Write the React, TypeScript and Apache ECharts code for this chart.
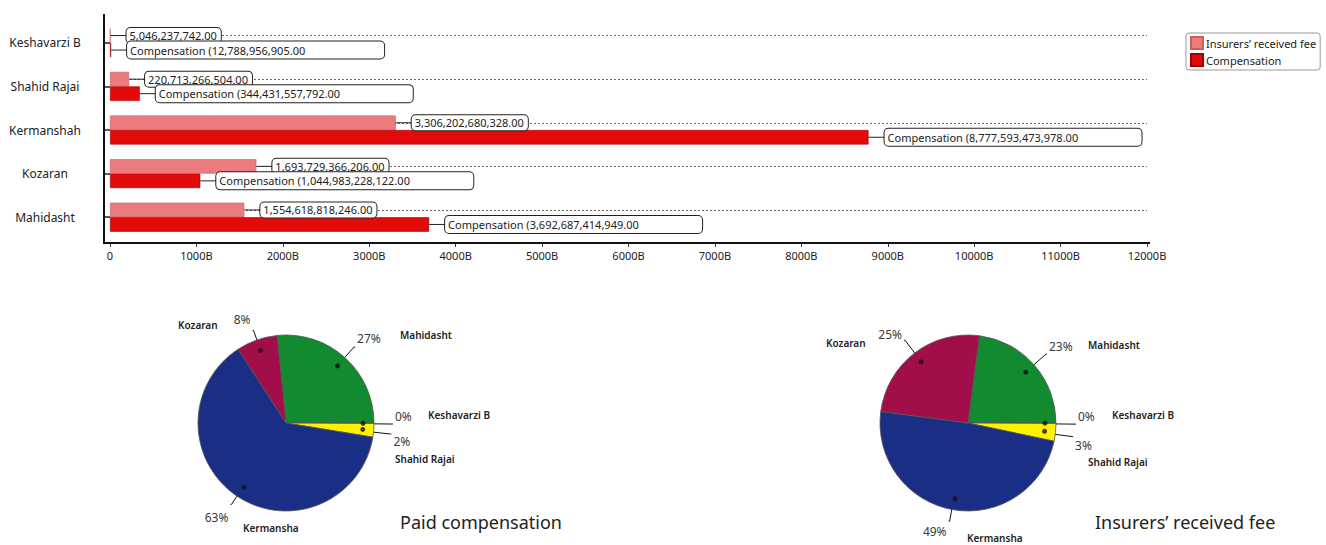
import React, { useEffect, useRef } from 'react';
import * as echarts from 'echarts';

const categories = ['Keshavarzi B', 'Shahid Rajai', 'Kermanshah', 'Kozaran', 'Mahidasht'];
const feeValues = [5046237742, 220713266504, 3306202680328, 1693729366206, 1554618818246];
const compValues = [12788956905, 344431557792, 8777593473978, 1044983228122, 3692687414949];
const xTickLabels = ['0', '1000B', '2000B', '3000B', '4000B', '5000B', '6000B', '7000B', '8000B', '9000B', '10000B', '11000B', '12000B'];
const seriesNames = ['Insurers\u2019 received fee', 'Compensation'];
const pieNames = ['Keshavarzi B', 'Shahid Rajai', 'Kermansha', 'Kozaran', 'Mahidasht'];
const pieTitles = ['Paid compensation', 'Insurers\u2019 received fee'];
// clockwise order of slices (indices into categories)
const pieOrder = [4, 0, 1, 2, 3];

// styles / layout (not data)
const sliceColors = ['#F4E400', '#FFF200', '#1A2E86', '#A10E4A', '#128A30'];
const FONT = 'Noto Sans';
const PIE_R = 88;
const DOT_R = 77;
const pieCenters: [number, number][] = [[286, 423], [968, 423]];
const pieTweaks = [
  [
    { len: 29, pad: [0, 0, 16, 0] },
    { len: 28, pad: [16, 0, 0, 0] },
    { len: 21, pad: [26, 0, 0, 0] },
    { len: 21, pad: [0, 0, 22, 0] },
    { len: 25, pad: [0, 0, 18, 0] },
  ],
  [
    { len: 30, pad: [0, 0, 16, 0] },
    { len: 28, pad: [18, 0, 0, 0] },
    { len: 23, pad: [20, 0, 0, 0] },
    { len: 27, pad: [0, 0, 12, 0] },
    { len: 27, pad: [0, 0, 16, 0] },
  ],
];
const nameSpots = [
  [[428, 415], [395, 459], [243, 528], [178, 325], [400, 335]],
  [[1112, 415], [1088, 462], [967, 538], [826, 343], [1088, 345]],
];
const titleSpots = [[400, 522], [1095, 522]];

const fmt = (v: number) =>
  v.toLocaleString('en-US', { minimumFractionDigits: 2, maximumFractionDigits: 2 });

const pctStyle = { fontFamily: FONT, fontSize: 12, color: '#3a3a3a' };

function pieParts(values: number[], k: number) {
  const total = values.reduce((a, b) => a + b, 0);
  const startAngle = (360 * values[pieOrder[0]]) / total;
  const center = pieCenters[k];
  const base = {
    type: 'pie',
    center,
    startAngle,
    clockwise: true,
    silent: true,
    avoidLabelOverlap: false,
    minShowLabelAngle: 0,
    percentPrecision: 0,
    emphasis: { disabled: true },
  };
  const visible = {
    ...base,
    radius: PIE_R,
    label: { show: false },
    labelLine: { show: false },
    itemStyle: { borderColor: '#555', borderWidth: 0.8 },
    data: pieOrder.map((i) => ({ name: categories[i], value: values[i], itemStyle: { color: sliceColors[i] } })),
  };
  const pct = {
    ...base,
    radius: DOT_R,
    minAngle: 2,
    itemStyle: { color: 'rgba(0,0,0,0)', borderWidth: 0 },
    label: {
      show: true,
      position: 'outside',
      alignTo: 'none',
      distanceToLabelLine: 2,
      formatter: '{p|{d}%}',
      rich: { p: { ...pctStyle } },
    },
    labelLine: { show: true, length2: 1, smooth: false, minTurnAngle: 0, lineStyle: { color: '#111', width: 1 } },
    data: pieOrder.map((i) => ({
      name: categories[i],
      value: values[i],
      label: { rich: { p: { ...pctStyle, padding: pieTweaks[k][i].pad } } },
      labelLine: { length: pieTweaks[k][i].len },
    })),
  };
  // dots at the middle of every slice, placed on a polar system sharing the pie's centre
  let acc = 0;
  const dotData = pieOrder.map((i) => {
    const mid = acc + values[i] / 2;
    acc += values[i];
    return [DOT_R / PIE_R, mid];
  });
  const dots = {
    type: 'scatter',
    coordinateSystem: 'polar',
    polarIndex: k,
    symbol: 'circle',
    symbolSize: 5,
    silent: true,
    z: 5,
    itemStyle: { color: '#111' },
    data: dotData,
  };
  const polar = { center, radius: PIE_R };
  const angleAxis = { polarIndex: k, type: 'value', min: 0, max: total, startAngle, clockwise: true, show: false };
  const radiusAxis = { polarIndex: k, type: 'value', min: 0, max: 1, show: false };
  return { series: [visible, pct, dots], polar, angleAxis, radiusAxis };
}

function barLabel(prefix: string, boxWidth: number | undefined, padV: number) {
  return {
    show: true,
    position: 'right',
    distance: 0,
    formatter: (p: any) => `{ln|}{box|${prefix}${fmt(p.value)}}`,
    rich: {
      ln: { width: 16, height: 1, backgroundColor: '#222' },
      box: {
        fontFamily: FONT,
        fontSize: 11,
        color: '#222',
        backgroundColor: '#fff',
        borderColor: '#222',
        borderWidth: 1,
        borderRadius: 4,
        padding: [padV, 4, padV, 3],
        lineHeight: 13,
        ...(boxWidth ? { width: boxWidth } : {}),
      },
    },
  };
}

export default function App() {
  const ref = useRef<HTMLDivElement>(null);
  useEffect(() => {
    document.body.style.margin = '0';
    const chart = echarts.init(ref.current!, undefined, { renderer: 'svg' });
    const graphic: any[] = [
      { type: 'line', shape: { x1: 104, y1: 14, x2: 104, y2: 244 }, style: { stroke: '#111', lineWidth: 2 }, z: 10 },
      { type: 'line', shape: { x1: 103, y1: 243, x2: 1150, y2: 243 }, style: { stroke: '#111', lineWidth: 2 }, z: 10 },
    ];
    nameSpots.forEach((spots, k) => {
      spots.forEach((s, i) => {
        graphic.push({
          type: 'text',
          x: s[0],
          y: s[1],
          style: { text: pieNames[i], fill: '#222', fontFamily: FONT, fontSize: 10, fontWeight: 600, align: 'left', verticalAlign: 'middle' },
        });
      });
      graphic.push({
        type: 'text',
        x: titleSpots[k][0],
        y: titleSpots[k][1],
        style: { text: pieTitles[k], fill: '#222', fontFamily: FONT, fontSize: 18, align: 'left', verticalAlign: 'middle' },
      });
    });
    const p1 = pieParts(compValues, 0);
    const p2 = pieParts(feeValues, 1);
    const option: any = {
      animation: false,
      textStyle: { fontFamily: FONT },
      grid: { left: 110, right: 179, top: 21, height: 218 },
      polar: [p1.polar, p2.polar],
      angleAxis: [p1.angleAxis, p2.angleAxis],
      radiusAxis: [p1.radiusAxis, p2.radiusAxis],
      legend: {
        orient: 'vertical',
        left: 1186,
        top: 33,
        padding: [3, 4, 3, 4],
        itemGap: 3,
        itemWidth: 12,
        itemHeight: 12,
        icon: 'rect',
        borderColor: '#999',
        borderWidth: 1,
        borderRadius: 3,
        textStyle: { fontFamily: FONT, fontSize: 11, color: '#222', padding: [0, 0, 0, -2] },
        data: seriesNames,
      },
      xAxis: {
        type: 'value',
        min: 0,
        max: 12e12,
        interval: 1e12,
        offset: 4,
        axisLine: { show: true, lineStyle: { color: '#333', opacity: 0 } },
        axisTick: { show: true, length: 4, lineStyle: { color: '#333', opacity: 1 } },
        splitLine: { show: false },
        axisLabel: { formatter: (_v: number, i: number) => xTickLabels[i], fontSize: 11, color: '#222', margin: 7, fontFamily: FONT },
      },
      yAxis: {
        type: 'category',
        data: categories,
        inverse: true,
        offset: 6,
        axisLine: { show: true, lineStyle: { color: '#333', opacity: 0 } },
        axisTick: { show: true, alignWithLabel: true, length: 5, lineStyle: { color: '#222', opacity: 1, width: 1.5 } },
        axisLabel: { align: 'center', margin: 59, fontSize: 12, color: '#222', fontFamily: FONT },
      },
      series: [
        {
          name: seriesNames[0],
          type: 'bar',
          data: feeValues,
          barWidth: 14.5,
          barGap: '0%',
          z: 3,
          itemStyle: { color: '#EC7B7D', borderColor: '#C86062', borderWidth: 0.6 },
          label: barLabel('', undefined, 2),
          markLine: {
            silent: true,
            symbol: 'none',
            z: 1,
            label: { show: false },
            lineStyle: { type: [2, 2], color: '#666', width: 1 },
            data: categories.map((c) => ({ yAxis: c })),
          },
        },
        {
          name: seriesNames[1],
          type: 'bar',
          data: compValues,
          barWidth: 14.5,
          barGap: '0%',
          z: 3,
          itemStyle: { color: '#E30A0A', borderColor: '#A00000', borderWidth: 0.6 },
          label: barLabel('Compensation (', 250, 3),
        },
        ...p1.series,
        ...p2.series,
      ],
      graphic,
    };
    chart.setOption(option);
    return () => chart.dispose();
  }, []);
  return <div ref={ref} style={{ width: 1326, height: 545 }} />;
}
